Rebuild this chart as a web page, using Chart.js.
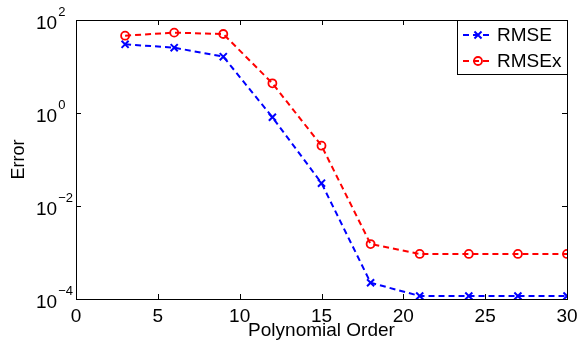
<!DOCTYPE html>
<html lang="en">
<head>
  <meta charset="UTF-8">
  <title>Error vs Polynomial Order</title>
  <style>
    body {
      margin: 0;
      padding: 0;
      background: #fff;
    }
    .wrap {
      width: 577px;
      height: 346px;
    }
  </style>
  <script src="https://cdn.jsdelivr.net/npm/chart.js"></script>
</head>
<body>
  <div class="wrap">
    <canvas id="errChart" width="577" height="346"></canvas>
  </div>
  <script>
    // data
    const orders = [3, 6, 9, 12, 15, 18, 21, 24, 27, 30];
    const rmse = [30, 25.4, 16.3, 0.81, 0.031, 2.24e-4, 1.16e-4, 1.16e-4, 1.16e-4, 1.16e-4];
    const rmsex = [46, 53.5, 50, 4.35, 0.198, 1.52e-3, 9.3e-4, 9.3e-4, 9.3e-4, 9.3e-4];
    const yTicks = [1e-4, 1e-2, 1e0, 1e2];
    const xTicks = [0, 5, 10, 15, 20, 25, 30];

    const FONT = 'Liberation Sans, Arial, sans-serif';

    // box, inward ticks, y labels with superscript exponent, legend
    const matlabAxes = {
      id: 'matlabAxes',
      afterDatasetsDraw(chart) {
        const ctx = chart.ctx;
        const a = chart.chartArea;
        const xs = chart.scales.x;
        const ys = chart.scales.y;
        ctx.save();
        ctx.strokeStyle = '#000';
        ctx.lineWidth = 1;
        ctx.strokeRect(a.left + 0.5, a.top + 0.5, a.right - a.left, a.bottom - a.top);

        ctx.beginPath();
        xTicks.forEach(v => {
          const px = Math.round(xs.getPixelForValue(v)) + 0.5;
          ctx.moveTo(px, a.bottom);
          ctx.lineTo(px, a.bottom - 5);
          ctx.moveTo(px, a.top);
          ctx.lineTo(px, a.top + 5);
        });
        yTicks.forEach(v => {
          const py = Math.round(ys.getPixelForValue(v)) + 0.5;
          ctx.moveTo(a.left, py);
          ctx.lineTo(a.left + 5, py);
          ctx.moveTo(a.right, py);
          ctx.lineTo(a.right - 5, py);
        });
        ctx.stroke();

        // y tick labels: 10 with raised exponent
        ctx.fillStyle = '#000';
        ctx.textAlign = 'left';
        ctx.textBaseline = 'alphabetic';
        yTicks.forEach(v => {
          const py = ys.getPixelForValue(v);
          const e = Math.round(Math.log10(v));
          ctx.font = '19px ' + FONT;
          ctx.fillText('10', 36, py + 9);
          const w = ctx.measureText('10').width;
          ctx.font = '13px ' + FONT;
          ctx.fillText(e < 0 ? '\u2212' + Math.abs(e) : String(e), 36 + w + 1, py - 4);
        });

        // legend box in the upper right corner
        const lw = 110, lh = 54;
        const lx = a.right - lw, ly = a.top;
        ctx.fillStyle = '#fff';
        ctx.fillRect(lx, ly, lw, lh);
        ctx.strokeStyle = '#000';
        ctx.lineWidth = 1;
        ctx.strokeRect(lx + 0.5, ly + 0.5, lw, lh);
        chart.data.datasets.forEach((ds, i) => {
          const cy = ly + 15 + i * 26;
          ctx.strokeStyle = ds.borderColor;
          ctx.lineWidth = ds.borderWidth;
          ctx.setLineDash(ds.borderDash);
          ctx.beginPath();
          ctx.moveTo(lx + 6, cy);
          ctx.lineTo(lx + 36, cy);
          ctx.stroke();
          ctx.setLineDash([]);
          ctx.fillStyle = 'rgba(0,0,0,0)';
          ctx.strokeStyle = ds.pointBorderColor;
          ctx.lineWidth = ds.pointBorderWidth;
          Chart.helpers.drawPoint(ctx, {
            pointStyle: ds.pointStyle,
            radius: ds.pointRadius,
            borderWidth: ds.pointBorderWidth
          }, lx + 21, cy);
          ctx.fillStyle = '#000';
          ctx.font = '19px ' + FONT;
          ctx.textBaseline = 'middle';
          ctx.fillText(ds.label, lx + 40, cy + 1);
        });
        ctx.restore();
      }
    };

    new Chart(document.getElementById('errChart'), {
      type: 'line',
      data: {
        datasets: [
          {
            label: 'RMSE',
            data: orders.map((o, i) => ({ x: o, y: rmse[i] })),
            borderColor: '#0000ff',
            borderWidth: 2,
            borderDash: [6, 4],
            pointStyle: 'crossRot',
            pointRadius: 5,
            pointBorderWidth: 2,
            pointBorderColor: '#0000ff',
            pointBackgroundColor: 'rgba(0,0,0,0)',
            tension: 0
          },
          {
            label: 'RMSEx',
            data: orders.map((o, i) => ({ x: o, y: rmsex[i] })),
            borderColor: '#ff0000',
            borderWidth: 2,
            borderDash: [6, 4],
            pointStyle: 'circle',
            pointRadius: 4,
            pointBorderWidth: 1.8,
            pointBorderColor: '#ff0000',
            pointBackgroundColor: 'rgba(0,0,0,0)',
            tension: 0
          }
        ]
      },
      options: {
        responsive: false,
        animation: false,
        layout: { padding: { left: 0, right: 10, top: 20, bottom: 0 } },
        plugins: {
          legend: { display: false },
          tooltip: { enabled: false }
        },
        scales: {
          x: {
            type: 'linear',
            min: 0,
            max: 30,
            grid: { display: false },
            border: { display: false },
            ticks: {
              stepSize: 5,
              autoSkip: false,
              maxRotation: 0,
              padding: -2,
              color: '#000',
              font: { family: FONT, size: 19 }
            },
            title: {
              display: true,
              text: 'Polynomial Order',
              color: '#000',
              font: { family: FONT, size: 19 },
              padding: { top: 0, bottom: 4 }
            },
            afterFit(scale) {
              scale.height = 47;
              scale.paddingLeft = 0;
              scale.paddingRight = 0;
            }
          },
          y: {
            type: 'logarithmic',
            min: 1e-4,
            max: 1e2,
            grid: { display: false },
            border: { display: false },
            ticks: { display: false },
            afterBuildTicks(scale) { scale.ticks = yTicks.map(v => ({ value: v })); },
            title: {
              display: true,
              text: 'Error',
              color: '#000',
              font: { family: FONT, size: 18 },
              padding: { top: 8, bottom: 0 }
            },
            afterFit(scale) { scale.width = 76; }
          }
        }
      },
      plugins: [matlabAxes]
    });
  </script>
</body>
</html>
